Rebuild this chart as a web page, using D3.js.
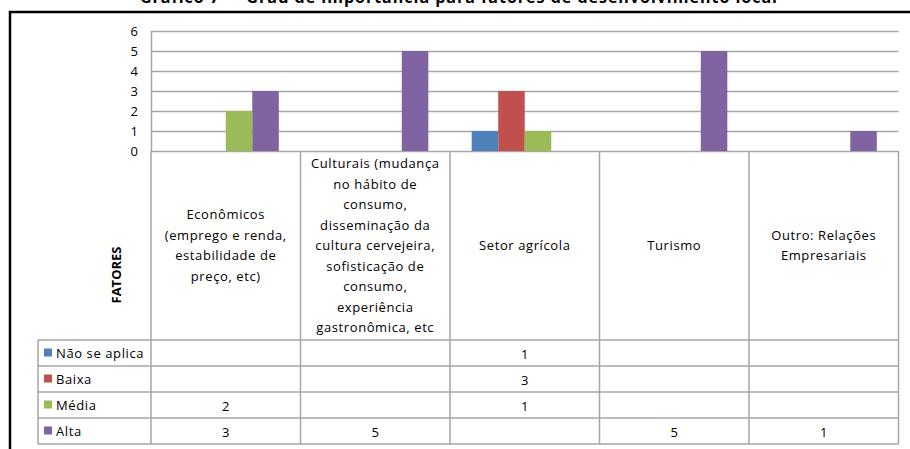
<!DOCTYPE html>
<html>
<head>
<meta charset="utf-8">
<script src="https://cdn.jsdelivr.net/npm/d3@7"></script>
<style>
  html, body { margin: 0; padding: 0; background: #fff; }
  svg { display: block; }
</style>
</head>
<body>
<script>
// ---- data ----
const titlePrefix = "Gráfico 7 –";
const titleMain = "Grau de importância para fatores de desenvolvimento local";
const categories = ["Econômicos", "Culturais", "Setor agrícola", "Turismo", "Outro"];
const categoryLabels = [
  ["Econômicos", "(emprego e renda,", "estabilidade de", "preço, etc)"],
  ["Culturais (mudança", "no hábito de", "consumo,", "disseminação da", "cultura cervejeira,", "sofisticação de", "consumo,", "experiência", "gastronômica, etc"],
  ["Setor agrícola"],
  ["Turismo"],
  ["Outro: Relações", "Empresariais"]
];
const seriesNames = ["Não se aplica", "Baixa", "Média", "Alta"];
const naoSeAplica = [null, null, 1, null, null];
const baixa = [null, null, 3, null, null];
const media = [2, null, 1, null, null];
const alta = [3, 5, null, 5, 1];
const seriesValues = [naoSeAplica, baixa, media, alta];
const seriesColors = ["#4F81BD", "#C0504D", "#9BBB59", "#8064A2"];
const yTicks = [0, 1, 2, 3, 4, 5, 6];
const axisTitle = "FATORES";

// ---- layout ----
const W = 910, H = 449;
const font = "'Open Sans', sans-serif";
const svg = d3.select("body").append("svg").attr("width", W).attr("height", H);

const plotLeft = 151, plotRight = 898.5, plotTop = 31, plotBottom = 151;
const headerBottom = 340, rowH = 26, tableLeft = 38;
const gridColor = "#a6a6a6";
const fs = 13, ls = 0.6;

const x = d3.scaleBand().domain(categories).range([plotLeft, plotRight]).paddingInner(0).paddingOuter(0);
const x1 = d3.scaleBand().domain(seriesNames).range([x.bandwidth() * 0.145, x.bandwidth() * 0.855]).padding(0);
const y = d3.scaleLinear().domain([0, 6]).range([plotBottom, plotTop]);

// title (clipped at top, as in the source)
svg.append("text").attr("x", 140).attr("y", 3)
  .attr("font-family", font).attr("font-size", 16).attr("font-weight", "bold").attr("letter-spacing", 1)
  .attr("fill", "#000").text(titlePrefix);
svg.append("text").attr("x", 778).attr("y", 3).attr("text-anchor", "end")
  .attr("font-family", font).attr("font-size", 16).attr("font-weight", "bold").attr("letter-spacing", 1)
  .attr("fill", "#000").text(titleMain);

// outer frame
svg.append("path").attr("d", `M10,${H + 5} V12 H${W + 5}`)
  .attr("fill", "none").attr("stroke", "#000").attr("stroke-width", 2.5);

// gridlines
svg.append("g").selectAll("line").data(yTicks).join("line")
  .attr("x1", plotLeft).attr("x2", plotRight)
  .attr("y1", d => Math.round(y(d)) + 0.5).attr("y2", d => Math.round(y(d)) + 0.5)
  .attr("stroke", gridColor).attr("stroke-width", 1.5);

// y axis via d3 axis
const yAxis = svg.append("g").attr("transform", `translate(${plotLeft},0)`)
  .call(d3.axisLeft(y).tickValues(yTicks).tickSize(0).tickPadding(13).tickFormat(d3.format("d")));
yAxis.select(".domain").attr("stroke", gridColor).attr("stroke-width", 1.5);
yAxis.selectAll("text").attr("font-family", font).attr("font-size", 13).attr("fill", "#000");

// bars
const gBars = svg.append("g");
seriesNames.forEach((s, si) => {
  const vals = seriesValues[si];
  gBars.append("g").selectAll("rect")
    .data(categories.map((c, i) => ({ c, v: vals[i] })).filter(d => d.v != null))
    .join("rect")
    .attr("x", d => x(d.c) + x1(s))
    .attr("width", x1.bandwidth())
    .attr("y", d => y(d.v))
    .attr("height", d => y(0) - y(d.v))
    .attr("fill", seriesColors[si]);
});

// data table lines
const tbl = svg.append("g").attr("stroke", gridColor).attr("stroke-width", 1.5).attr("fill", "none");
const colEdges = categories.map(c => x(c)).concat([plotRight]);
colEdges.forEach(cx => {
  tbl.append("line").attr("x1", cx).attr("x2", cx).attr("y1", plotBottom).attr("y2", headerBottom + rowH * seriesNames.length);
});
tbl.append("line").attr("x1", tableLeft).attr("x2", tableLeft).attr("y1", headerBottom).attr("y2", headerBottom + rowH * seriesNames.length);
d3.range(seriesNames.length + 1).forEach(i => {
  const yy = headerBottom + rowH * i;
  tbl.append("line").attr("x1", tableLeft).attr("x2", plotRight).attr("y1", yy).attr("y2", yy);
});

// category header labels
const lineH = 20.5;
const headerMid = (plotBottom + headerBottom) / 2;
categories.forEach((c, i) => {
  const lines = categoryLabels[i];
  const tx = svg.append("text").attr("text-anchor", "middle")
    .attr("font-family", font).attr("font-size", fs).attr("letter-spacing", ls).attr("fill", "#000");
  const y0 = headerMid - (lines.length - 1) * lineH / 2;
  lines.forEach((ln, j) => {
    tx.append("tspan").attr("x", x(c) + x.bandwidth() / 2).attr("y", y0 + j * lineH).attr("dy", "0.35em").text(ln);
  });
});

// axis title
svg.append("text").attr("transform", "translate(116,275) rotate(-90)")
  .attr("text-anchor", "middle").attr("dy", "0.35em")
  .attr("font-family", font).attr("font-size", 13).attr("font-weight", "bold").attr("fill", "#000")
  .text(axisTitle);

// table rows: legend key + values
seriesNames.forEach((s, si) => {
  const cy = headerBottom + rowH * si + rowH / 2;
  svg.append("rect").attr("x", 44).attr("y", cy - 4.5).attr("width", 8).attr("height", 8).attr("fill", seriesColors[si]);
  svg.append("text").attr("x", 56).attr("y", cy).attr("dy", "0.35em")
    .attr("font-family", font).attr("font-size", fs).attr("letter-spacing", ls).attr("fill", "#000").text(s);
  seriesValues[si].forEach((v, ci) => {
    if (v == null) return;
    svg.append("text").attr("x", x(categories[ci]) + x.bandwidth() / 2).attr("y", cy + 1).attr("dy", "0.35em")
      .attr("text-anchor", "middle").attr("font-family", font).attr("font-size", fs).attr("fill", "#000").text(v);
  });
});
</script>
</body>
</html>
